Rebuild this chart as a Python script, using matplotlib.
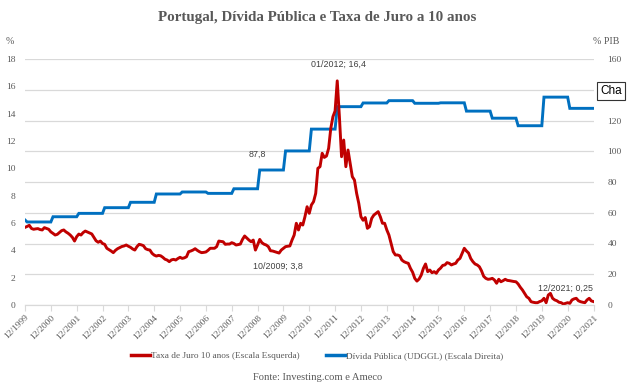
import numpy as np
import matplotlib.pyplot as plt

# Taxa de juro a 10 anos (%), mensal, 12/1999 .. 12/2021
taxa_juro = [
    5.68,
    5.75, 5.83, 5.60, 5.54, 5.57, 5.59, 5.52, 5.49, 5.66, 5.60, 5.54, 5.35,   # 2000
    5.24, 5.12, 5.17, 5.30, 5.44, 5.49, 5.35, 5.25, 5.12, 4.95, 4.68, 5.00,   # 2001
    5.19, 5.12, 5.30, 5.41, 5.34, 5.27, 5.20, 4.95, 4.70, 4.59, 4.68, 4.50,   # 2002
    4.44, 4.15, 4.05, 3.95, 3.83, 4.00, 4.12, 4.20, 4.28, 4.32, 4.39, 4.30,   # 2003
    4.22, 4.10, 4.02, 4.27, 4.44, 4.40, 4.34, 4.12, 4.05, 4.02, 3.78, 3.65,   # 2004
    3.58, 3.63, 3.60, 3.49, 3.35, 3.29, 3.17, 3.30, 3.34, 3.29, 3.40, 3.49,   # 2005
    3.41, 3.45, 3.53, 3.90, 3.95, 4.02, 4.12, 4.00, 3.90, 3.83, 3.85, 3.88,   # 2006
    4.00, 4.15, 4.15, 4.15, 4.27, 4.68, 4.65, 4.63, 4.44, 4.46, 4.46, 4.56,   # 2007
    4.50, 4.39, 4.42, 4.46, 4.80, 5.05, 4.90, 4.75, 4.63, 4.75, 4.02, 4.39,   # 2008
    4.80, 4.56, 4.45, 4.39, 4.27, 3.97, 3.95, 3.90, 3.85, 3.80, 4.02, 4.15,   # 2009
    4.27, 4.30, 4.32, 4.75, 5.12, 5.98, 5.49, 5.98, 5.85, 6.46, 7.19, 6.71,   # 2010
    7.32, 7.56, 8.17, 10.00, 10.12, 11.10, 10.80, 10.90, 11.46, 12.93, 13.78, 14.20,  # 2011
    16.40, 13.78, 10.85, 12.07, 10.12, 11.34, 10.37, 9.39, 9.14, 8.17, 7.44, 6.46,   # 2012
    6.20, 6.40, 5.61, 5.73, 6.34, 6.58, 6.70, 6.83, 6.46, 5.98, 5.98, 5.50,   # 2013
    5.12, 4.51, 3.90, 3.66, 3.66, 3.60, 3.29, 3.17, 3.10, 3.05, 2.68, 2.40,   # 2014
    1.95, 1.75, 1.90, 2.19, 2.68, 3.00, 2.44, 2.56, 2.36, 2.44, 2.32, 2.56,   # 2015
    2.70, 2.90, 2.93, 3.10, 3.05, 2.93, 3.00, 3.05, 3.29, 3.41, 3.78, 4.15,   # 2016
    3.95, 3.80, 3.40, 3.17, 3.00, 2.93, 2.80, 2.50, 2.10, 1.95, 1.88, 1.90,   # 2017
    1.95, 1.83, 1.59, 1.88, 1.70, 1.78, 1.88, 1.80, 1.78, 1.75, 1.72, 1.70,   # 2018
    1.54, 1.30, 1.10, 0.85, 0.60, 0.49, 0.24, 0.20, 0.17, 0.17, 0.25, 0.31,   # 2019
    0.49, 0.17, 0.73, 0.85, 0.49, 0.37, 0.31, 0.20, 0.17, 0.07, 0.12, 0.17,   # 2020
    0.12, 0.37, 0.45, 0.49, 0.31, 0.24, 0.20, 0.17, 0.37, 0.49, 0.30, 0.25,   # 2021
]

# Divida publica (% PIB), anual
divida_inicio = 55.3   # 12/1999
divida_anos = list(range(2000, 2022))
divida = [54.0, 57.4, 59.6, 63.3, 66.8, 72.2, 73.5, 72.6, 75.6, 87.8, 100.2,
          114.4, 129.0, 131.4, 132.9, 131.2, 131.5, 126.1, 121.5, 116.6, 135.2, 127.9]

tick_anos = list(range(1999, 2022))
tick_labels = ['12/%d' % a for a in tick_anos]

red = '#C00000'
blue = '#0070C0'
grey = '#595959'
gridc = '#d9d9d9'

plt.rcParams['font.family'] = ['Liberation Serif', 'DejaVu Serif']

fig = plt.figure(figsize=(6.28, 3.9), dpi=100)
ax = fig.add_axes([25 / 628, 1 - 305 / 390, 568.5 / 628, 246 / 390])
ax2 = ax.twinx()

x_juro = np.arange(len(taxa_juro))
x_div = [0]
y_div = [divida_inicio]
for i, v in enumerate(divida):
    x_div += [12 * i + 1, 12 * i + 12]
    y_div += [v, v]

ax2.plot(x_div, y_div, color=blue, lw=2.1, solid_joinstyle='miter')
ax.plot(x_juro, taxa_juro, color=red, lw=2.1)
ax.set_zorder(ax2.get_zorder() + 1)
ax.patch.set_visible(False)

ax.set_xlim(0, len(taxa_juro) - 1)
ax.set_ylim(0, 18)
ax2.set_ylim(0, 160)
ax.set_yticks(np.arange(0, 19, 2))
ax2.set_yticks(np.arange(0, 161, 20))
ax2.grid(axis='y', color=gridc, lw=0.9)
ax2.set_axisbelow(True)

ax.set_xticks(np.arange(0, len(taxa_juro), 12))
ax.set_xticklabels(tick_labels, rotation=45, ha='right', rotation_mode='anchor')

for a in (ax, ax2):
    for s in ('top', 'left', 'right'):
        a.spines[s].set_visible(False)
    a.spines['bottom'].set_color(gridc)
    a.tick_params(axis='y', length=0, labelsize=6.8, colors=grey)
ax.tick_params(axis='y', pad=7)
ax2.tick_params(axis='y', pad=10)
ax.tick_params(axis='x', length=4, color=gridc, labelsize=6.8, colors=grey, pad=2)

fig.text(0.505, 1 - 17 / 390, 'Portugal, Dívida Pública e Taxa de Juro a 10 anos',
         ha='center', va='center', fontsize=10.8, fontweight='bold', color=grey)
fig.text(10 / 628, 1 - 41 / 390, '%', ha='center', va='center', fontsize=7.2, color=grey)
fig.text(606 / 628, 1 - 41 / 390, '% PIB', ha='center', va='center', fontsize=7.2, color=grey)

sans = ['Liberation Sans', 'DejaVu Sans']
ann_c = '#404040'
ax.annotate('01/2012; 16,4', (145, 16.4), xytext=(1, 9), textcoords='offset points',
            ha='center', va='bottom', fontsize=6.4, family=sans, color=ann_c)
ax2.annotate('87,8', (108, 87.8), xytext=(0, 8), textcoords='offset points',
             ha='center', va='bottom', fontsize=6.4, family=sans, color=ann_c)
ax.annotate('10/2009; 3,8', (118, 3.8), xytext=(-1, -6), textcoords='offset points',
            ha='center', va='top', fontsize=6.4, family=sans, color=ann_c)
ax.annotate('12/2021; 0,25', (264, 0.25), xytext=(-20, 6), textcoords='offset points',
            ha='center', va='bottom', fontsize=6.4, family=sans, color=ann_c)

# restos da dica do Excel no canto
fig.text(600 / 628, 1 - 91 / 390, 'Cha', ha='left', va='center', fontsize=8.5, family=sans,
         color='black', zorder=10,
         bbox=dict(boxstyle='square,pad=0.25', fc='white', ec='#333333', lw=0.8))

handles = [plt.Line2D([], [], color=red, lw=2.5), plt.Line2D([], [], color=blue, lw=2.5)]
fig.legend(handles, ['Taxa de Juro 10 anos (Escala Esquerda)', 'Dívida Pública (UDGGL) (Escala Direita)'],
           loc='center', bbox_to_anchor=(0.505, 1 - 356 / 390), ncol=2, frameon=False,
           fontsize=6.7, handlelength=2.1, handletextpad=0.1, columnspacing=2.8, labelcolor=grey)
fig.text(318 / 628, 1 - 378 / 390, 'Fonte: Investing.com e Ameco', ha='center', va='center',
         fontsize=7.6, color=grey)

fig.savefig('out.png', dpi=100)
